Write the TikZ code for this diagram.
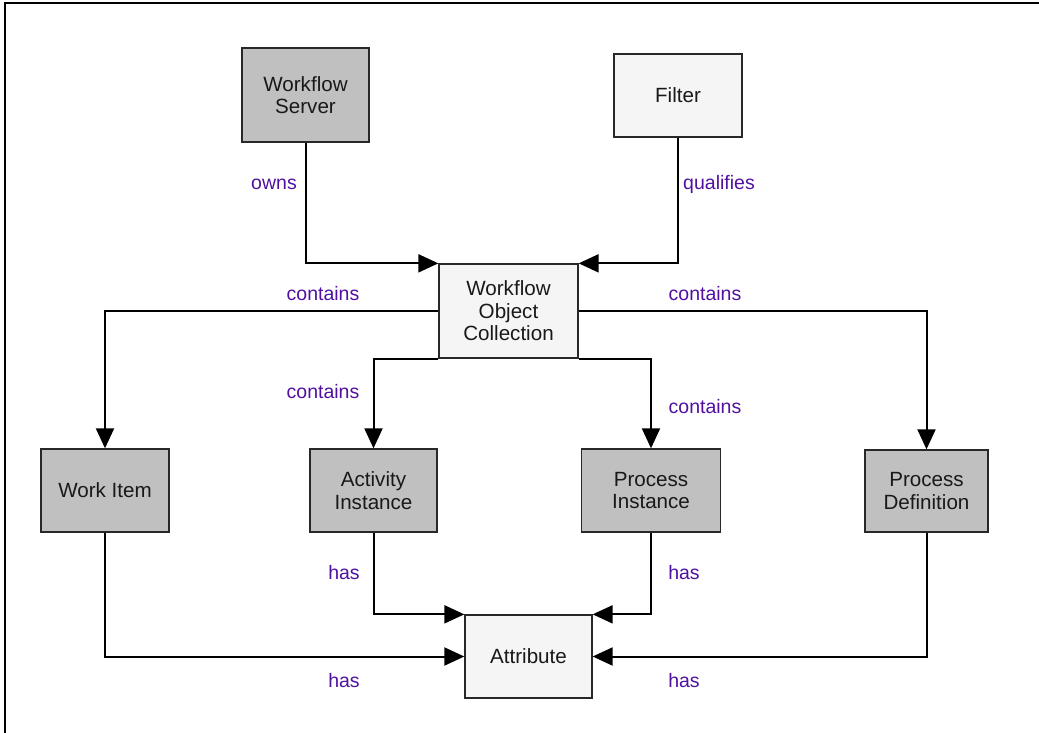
\documentclass[tikz,border=0pt]{standalone}
\usepackage{fontspec}
\setmainfont{Liberation Sans}
\usetikzlibrary{arrows.meta}
\definecolor{lblcol}{RGB}{80,16,160}
\definecolor{darkfill}{RGB}{192,192,192}
\definecolor{lightfill}{RGB}{245,245,245}
\definecolor{boxline}{RGB}{40,40,40}
\tikzset{
  box/.style={draw=boxline, line width=1.3pt, inner sep=0pt, align=center,
    font=\fontsize{20.6}{22.5}\selectfont, text=black!90},
  darkbox/.style={box, fill=darkfill},
  lightbox/.style={box, fill=lightfill},
  conn/.style={line width=2pt, -{Triangle[length=20pt,width=18pt]}},
  lbl/.style={text=lblcol, font=\fontsize{19.5}{22.5}\selectfont, inner sep=0pt}
}
\begin{document}
\begin{tikzpicture}[x=1pt,y=-1pt]
\useasboundingbox (0,0) rectangle (1039,733);
\draw[line width=2pt] (5,742) -- (5,3) -- (1045,3);
% boxes
\node[darkbox, minimum width=127pt, minimum height=94pt] (ws) at (305.5,95) {Workflow\\Server};
\node[lightbox, minimum width=128pt, minimum height=83pt] (flt) at (678,95.5) {Filter};
\node[lightbox, minimum width=139pt, minimum height=94pt] (woc) at (508.5,311) {Workflow\\Object\\Collection};
\node[darkbox, minimum width=128pt, minimum height=83pt] (wi) at (105,490.5) {Work Item};
\node[darkbox, minimum width=127pt, minimum height=83pt] (ai) at (373.5,490.5) {Activity\\Instance};
\node[darkbox, minimum width=139pt, minimum height=83pt] (pi) at (651,490.5) {Process\\Instance};
\node[darkbox, minimum width=123pt, minimum height=82pt] (pd) at (926.5,491) {Process\\Definition};
\node[lightbox, minimum width=127pt, minimum height=83pt] (attr) at (528.5,656.5) {Attribute};
% connectors
\draw[conn] (ws.south) |- (woc.north west);
\draw[conn] (flt.south) |- (woc.north east);
\draw[conn] (woc.west) -| (wi.north);
\draw[conn] (woc.east) -| (pd.north);
\draw[conn] (woc.south west) -| (ai.north);
\draw[conn] (woc.south east) -| (pi.north);
\draw[conn] (ai.south) |- (attr.north west);
\draw[conn] (pi.south) |- (attr.north east);
\draw[conn] (wi.south) |- (attr.west);
\draw[conn] (pd.south) |- (attr.east);
% labels
\node[lbl] (l1) at (274,184) {owns};
\node[lbl] (l2) at (719,184) {qualifies};
\node[lbl] (l3) at (323,294) {contains};
\node[lbl] (l4) at (705,294) {contains};
\node[lbl] (l5) at (323,392) {contains};
\node[lbl] (l6) at (705,407) {contains};
\node[lbl] (l7) at (344,573) {has};
\node[lbl] (l8) at (684,573) {has};
\node[lbl] (l9) at (344,681) {has};
\node[lbl] (l10) at (684,681) {has};
\end{tikzpicture}
\end{document}
